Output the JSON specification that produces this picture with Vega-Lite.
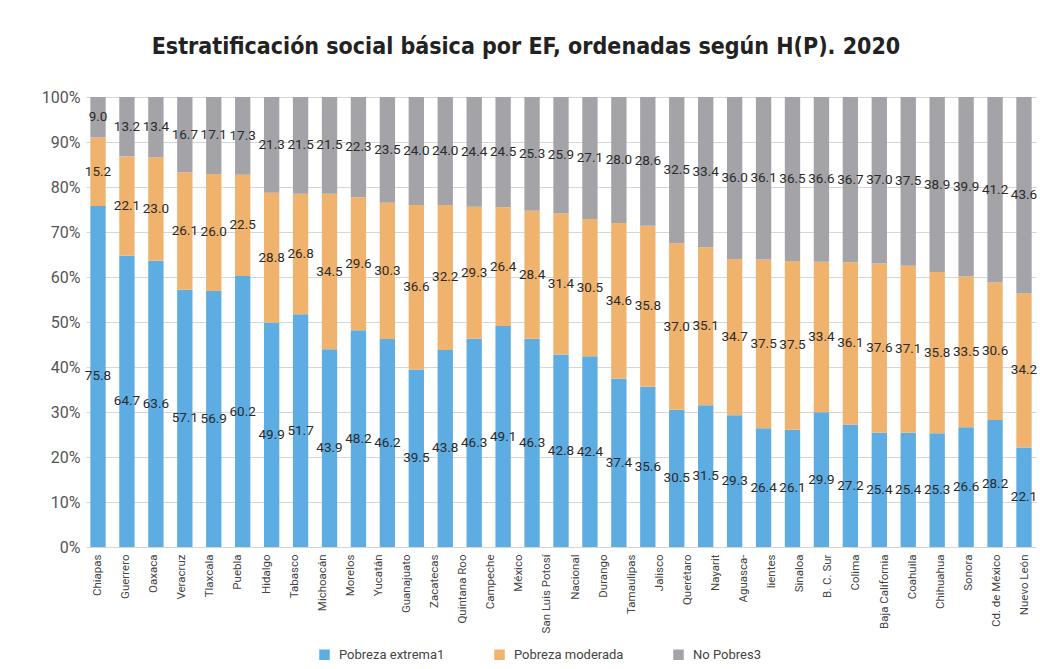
{
  "$schema": "https://vega.github.io/schema/vega-lite/v6.json",
  "width": 950,
  "height": 450,
  "autosize": "none",
  "padding": {"left": 86, "top": 97, "right": 4, "bottom": 122},
  "background": "white",
  "config": {
    "font": "Roboto, Liberation Sans, sans-serif",
    "view": {"stroke": null}
  },
  "title": {
    "text": "Estratificación social básica por EF, ordenadas según H(P). 2020",
    "font": "DejaVu Sans Condensed, DejaVu Sans, sans-serif",
    "fontSize": 23,
    "fontWeight": "bold",
    "color": "#222222",
    "anchor": "middle",
    "dx": -35,
    "offset": 30
  },
  "datasets": {
    "datos": [
      {"entidad": "Chiapas", "Pobreza extrema1": 75.8, "Pobreza moderada": 15.2, "No Pobres3": 9.0},
      {"entidad": "Guerrero", "Pobreza extrema1": 64.7, "Pobreza moderada": 22.1, "No Pobres3": 13.2},
      {"entidad": "Oaxaca", "Pobreza extrema1": 63.6, "Pobreza moderada": 23.0, "No Pobres3": 13.4},
      {"entidad": "Veracruz", "Pobreza extrema1": 57.1, "Pobreza moderada": 26.1, "No Pobres3": 16.7},
      {"entidad": "Tlaxcala", "Pobreza extrema1": 56.9, "Pobreza moderada": 26.0, "No Pobres3": 17.1},
      {"entidad": "Puebla", "Pobreza extrema1": 60.2, "Pobreza moderada": 22.5, "No Pobres3": 17.3},
      {"entidad": "Hidalgo", "Pobreza extrema1": 49.9, "Pobreza moderada": 28.8, "No Pobres3": 21.3},
      {"entidad": "Tabasco", "Pobreza extrema1": 51.7, "Pobreza moderada": 26.8, "No Pobres3": 21.5},
      {"entidad": "Michoacán", "Pobreza extrema1": 43.9, "Pobreza moderada": 34.5, "No Pobres3": 21.5},
      {"entidad": "Morelos", "Pobreza extrema1": 48.2, "Pobreza moderada": 29.6, "No Pobres3": 22.3},
      {"entidad": "Yucatán", "Pobreza extrema1": 46.2, "Pobreza moderada": 30.3, "No Pobres3": 23.5},
      {"entidad": "Guanajuato", "Pobreza extrema1": 39.5, "Pobreza moderada": 36.6, "No Pobres3": 24.0},
      {"entidad": "Zacatecas", "Pobreza extrema1": 43.8, "Pobreza moderada": 32.2, "No Pobres3": 24.0},
      {"entidad": "Quintana Roo", "Pobreza extrema1": 46.3, "Pobreza moderada": 29.3, "No Pobres3": 24.4},
      {"entidad": "Campeche", "Pobreza extrema1": 49.1, "Pobreza moderada": 26.4, "No Pobres3": 24.5},
      {"entidad": "México", "Pobreza extrema1": 46.3, "Pobreza moderada": 28.4, "No Pobres3": 25.3},
      {"entidad": "San Luis Potosí", "Pobreza extrema1": 42.8, "Pobreza moderada": 31.4, "No Pobres3": 25.9},
      {"entidad": "Nacional", "Pobreza extrema1": 42.4, "Pobreza moderada": 30.5, "No Pobres3": 27.1},
      {"entidad": "Durango", "Pobreza extrema1": 37.4, "Pobreza moderada": 34.6, "No Pobres3": 28.0},
      {"entidad": "Tamaulipas", "Pobreza extrema1": 35.6, "Pobreza moderada": 35.8, "No Pobres3": 28.6},
      {"entidad": "Jalisco", "Pobreza extrema1": 30.5, "Pobreza moderada": 37.0, "No Pobres3": 32.5},
      {"entidad": "Querétaro", "Pobreza extrema1": 31.5, "Pobreza moderada": 35.1, "No Pobres3": 33.4},
      {"entidad": "Nayarit", "Pobreza extrema1": 29.3, "Pobreza moderada": 34.7, "No Pobres3": 36.0},
      {"entidad": "Aguascalientes", "Pobreza extrema1": 26.4, "Pobreza moderada": 37.5, "No Pobres3": 36.1},
      {"entidad": "Sinaloa", "Pobreza extrema1": 26.1, "Pobreza moderada": 37.5, "No Pobres3": 36.5},
      {"entidad": "B. C. Sur", "Pobreza extrema1": 29.9, "Pobreza moderada": 33.4, "No Pobres3": 36.6},
      {"entidad": "Colima", "Pobreza extrema1": 27.2, "Pobreza moderada": 36.1, "No Pobres3": 36.7},
      {"entidad": "Baja California", "Pobreza extrema1": 25.4, "Pobreza moderada": 37.6, "No Pobres3": 37.0},
      {"entidad": "Coahuila", "Pobreza extrema1": 25.4, "Pobreza moderada": 37.1, "No Pobres3": 37.5},
      {"entidad": "Chihuahua", "Pobreza extrema1": 25.3, "Pobreza moderada": 35.8, "No Pobres3": 38.9},
      {"entidad": "Sonora", "Pobreza extrema1": 26.6, "Pobreza moderada": 33.5, "No Pobres3": 39.9},
      {"entidad": "Cd. de México", "Pobreza extrema1": 28.2, "Pobreza moderada": 30.6, "No Pobres3": 41.2},
      {"entidad": "Nuevo León", "Pobreza extrema1": 22.1, "Pobreza moderada": 34.2, "No Pobres3": 43.6}
    ],
    "etiquetas": [
      {"etiqueta": "Chiapas"}, {"etiqueta": "Guerrero"}, {"etiqueta": "Oaxaca"}, {"etiqueta": "Veracruz"},
      {"etiqueta": "Tlaxcala"}, {"etiqueta": "Puebla"}, {"etiqueta": "Hidalgo"}, {"etiqueta": "Tabasco"},
      {"etiqueta": "Michoacán"}, {"etiqueta": "Morelos"}, {"etiqueta": "Yucatán"}, {"etiqueta": "Guanajuato"},
      {"etiqueta": "Zacatecas"}, {"etiqueta": "Quintana Roo"}, {"etiqueta": "Campeche"}, {"etiqueta": "México"},
      {"etiqueta": "San Luis Potosí"}, {"etiqueta": "Nacional"}, {"etiqueta": "Durango"}, {"etiqueta": "Tamaulipas"},
      {"etiqueta": "Jalisco"}, {"etiqueta": "Querétaro"}, {"etiqueta": "Nayarit"}, {"etiqueta": "Aguasca-"},
      {"etiqueta": "lientes"}, {"etiqueta": "Sinaloa"}, {"etiqueta": "B. C. Sur"}, {"etiqueta": "Colima"},
      {"etiqueta": "Baja California"}, {"etiqueta": "Coahuila"}, {"etiqueta": "Chihuahua"}, {"etiqueta": "Sonora"},
      {"etiqueta": "Cd. de México"}, {"etiqueta": "Nuevo León"}
    ]
  },
  "layer": [
    {
      "data": {"name": "datos"},
      "transform": [
        {"fold": ["Pobreza extrema1", "Pobreza moderada", "No Pobres3"], "as": ["grupo", "valor"]},
        {"stack": "valor", "groupby": ["entidad"], "offset": "normalize", "as": ["v0", "v1"]},
        {"calculate": "(datum.v0 + datum.v1) / 2", "as": "medio"}
      ],
      "layer": [
        {
          "mark": {"type": "bar"},
          "encoding": {
            "x": {
              "field": "entidad", "type": "nominal", "sort": null,
              "scale": {"paddingInner": 0.47, "paddingOuter": 0.15},
              "axis": null
            },
            "y": {
              "field": "v0", "type": "quantitative",
              "scale": {"domain": [0, 1], "nice": false},
              "axis": {
                "title": null, "format": ".0%",
                "values": [0, 0.1, 0.2, 0.3, 0.4, 0.5, 0.6, 0.7, 0.8, 0.9, 1],
                "domain": false, "ticks": false,
                "labelFontSize": 16, "labelColor": "#555555", "labelPadding": 6,
                "gridColor": "#d6d6d6", "gridWidth": 1
              }
            },
            "y2": {"field": "v1"},
            "color": {
              "field": "grupo", "type": "nominal",
              "scale": {
                "domain": ["Pobreza extrema1", "Pobreza moderada", "No Pobres3"],
                "range": ["#5dade2", "#f0b36e", "#a3a3a8"]
              },
              "legend": {
                "title": null, "orient": "none", "direction": "horizontal",
                "legendX": 232, "legendY": 551,
                "symbolType": "square", "symbolSize": 110, "symbolStrokeWidth": 0,
                "labelFontSize": 13, "labelColor": "#444444",
                "columnPadding": 48, "labelOffset": 8
              }
            }
          }
        },
        {
          "mark": {"type": "text", "fontSize": 13.5, "color": "#2a2a2a", "baseline": "middle", "align": "center"},
          "encoding": {
            "x": {"field": "entidad", "type": "nominal", "sort": null},
            "y": {"field": "medio", "type": "quantitative"},
            "text": {"field": "valor", "type": "quantitative", "format": ".1f"}
          }
        }
      ]
    },
    {
      "data": {"name": "etiquetas"},
      "mark": {"type": "text", "opacity": 0},
      "encoding": {
        "x": {
          "field": "etiqueta", "type": "nominal", "sort": null,
          "scale": {"type": "point", "padding": 0.41},
          "axis": {
            "orient": "bottom",
            "title": null, "labelAngle": -90, "labelAlign": "right", "labelBaseline": "middle",
            "labelFontSize": 11.5, "labelColor": "#444444", "labelPadding": 7,
            "ticks": false, "domain": false, "grid": false, "labelOverlap": false
          }
        },
        "text": {"value": ""}
      }
    }
  ],
  "resolve": {"scale": {"x": "independent"}, "axis": {"x": "independent"}}
}
